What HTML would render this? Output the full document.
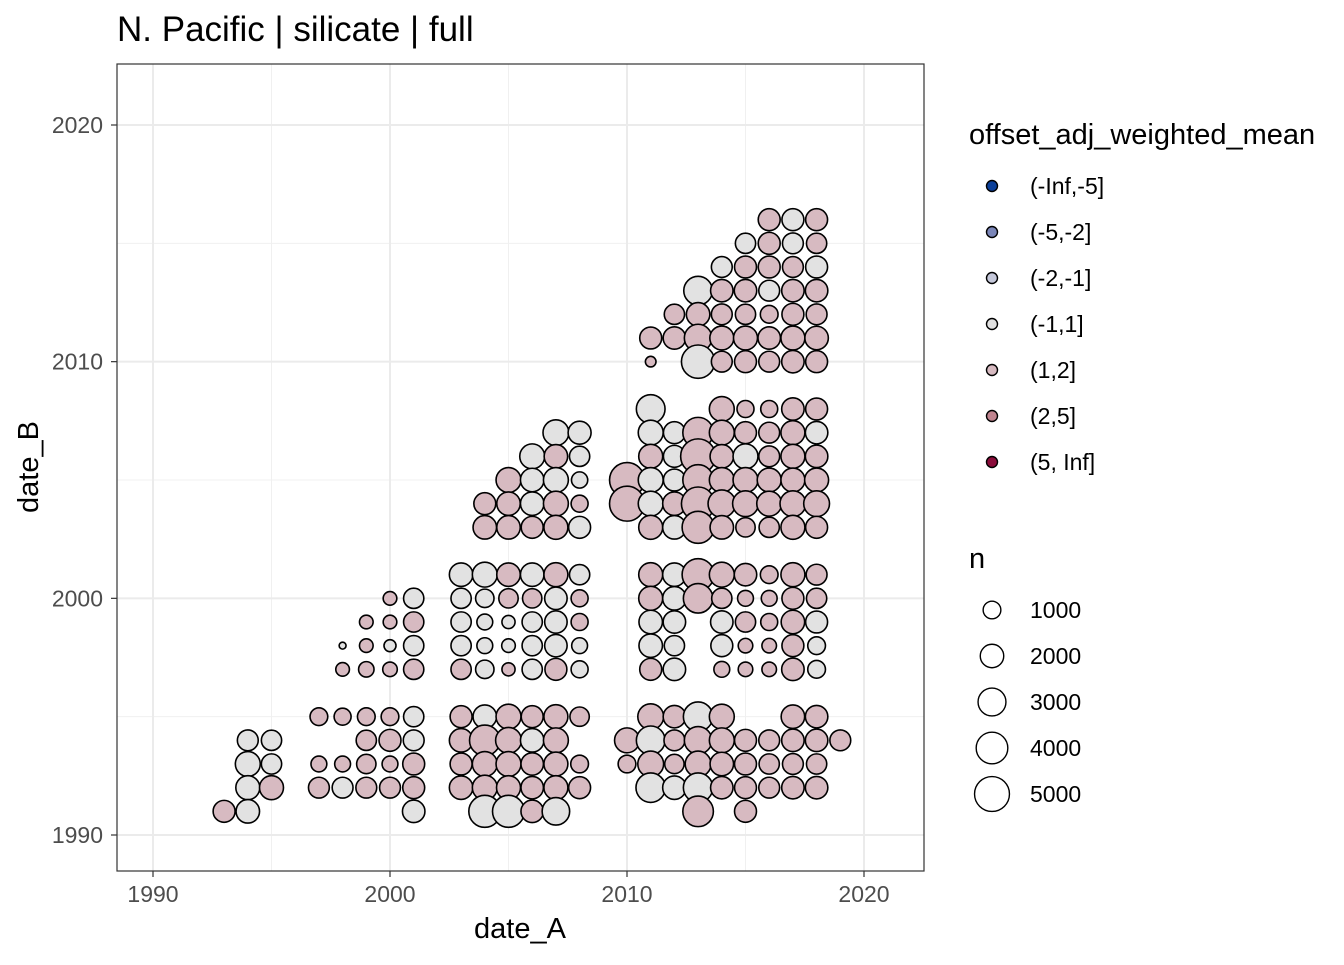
<!DOCTYPE html>
<html><head><meta charset="utf-8"><title>N. Pacific silicate</title>
<style>body{margin:0;background:#fff}svg text{font-family:"Liberation Sans",sans-serif}</style></head>
<body>
<svg id="chart" width="1344" height="960" xmlns="http://www.w3.org/2000/svg">
<rect width="1344" height="960" fill="#fff"/>
<text x="117" y="41" font-size="35" fill="#000">N. Pacific | silicate | full</text>
<rect x="117" y="64" width="807" height="807" fill="#fff"/>
<g id="grid"></g>
<g id="points"></g>
<rect x="117" y="64" width="807" height="807" fill="none" stroke="#333" stroke-width="1.2"/>
<g id="axes"></g>
<text x="520" y="938" font-size="29" text-anchor="middle">date_A</text>
<text transform="translate(38,467) rotate(-90)" font-size="29" text-anchor="middle">date_B</text>
<g id="legend"></g>
</svg>
<script>
const categories = ["(-Inf,-5]","(-5,-2]","(-2,-1]","(-1,1]","(1,2]","(2,5]","(5, Inf]"];
const catColors = ["#0b3f99","#7b86b8","#c5c8da","#e2e2e2","#d7bac1","#c0848f","#8a0c3a"];
const xTicks = [1990,2000,2010,2020];
const yTicks = [1990,2000,2010,2020];
const sizeLegend = [1000,2000,3000,4000,5000];
// rows: [date_A, date_B, n, category index] ; 3 = (-1,1], 4 = (1,2]
const dateA = [], dateB = [], nVals = [], cats = [];
const rows = [
[2007,2007,2500,3],[2008,2007,1900,3],
[2006,2006,2300,3],[2007,2006,2000,4],[2008,2006,1400,3],
[2005,2005,2300,4],[2006,2005,2000,3],[2007,2005,2300,3],[2008,2005,800,3],
[2004,2004,1700,4],[2005,2004,2000,4],[2006,2004,2000,3],[2007,2004,2300,4],[2008,2004,900,4],
[2004,2003,2000,4],[2005,2003,2000,4],[2006,2003,1700,4],[2007,2003,2100,4],[2008,2003,1700,3],
[2003,2001,2000,3],[2004,2001,2300,3],[2005,2001,2000,4],[2006,2001,2000,3],[2007,2001,2100,4],[2008,2001,1400,3],
[2003,2000,1400,3],[2004,2000,1100,3],[2005,2000,1250,4],[2006,2000,1250,4],[2007,2000,1800,3],[2008,2000,900,4],
[2003,1999,1400,3],[2004,1999,750,3],[2005,1999,450,3],[2006,1999,1400,3],[2007,1999,1800,3],[2008,1999,900,4],
[2003,1998,1400,3],[2004,1998,750,3],[2005,1998,500,3],[2006,1998,1400,3],[2007,1998,1800,3],[2008,1998,750,3],
[2003,1997,1400,4],[2004,1997,1100,3],[2005,1997,450,4],[2006,1997,1400,3],[2007,1997,1700,4],[2008,1997,900,3],
[2000,2000,500,4],[2001,2000,1400,3],
[1999,1999,500,4],[2000,1999,500,4],[2001,1999,1400,4],
[1998,1998,50,3],[1999,1998,500,4],[2000,1998,350,3],[2001,1998,1400,3],
[1998,1997,500,4],[1999,1997,700,4],[2000,1997,600,4],[2001,1997,1400,4],
[1997,1995,1000,4],[1998,1995,900,4],[1999,1995,1000,4],[2000,1995,1000,4],[2001,1995,1400,3],
[1999,1994,1400,4],[2000,1994,1700,4],[2001,1994,1500,3],
[1997,1993,750,4],[1998,1993,750,4],[1999,1993,1250,4],[2000,1993,750,4],[2001,1993,1700,4],
[1997,1992,1500,4],[1998,1992,1500,3],[1999,1992,1500,4],[2000,1992,1500,4],[2001,1992,1700,4],
[2001,1991,1800,3],
[1994,1994,1500,3],[1995,1994,1400,3],
[1994,1993,2300,3],[1995,1993,1400,3],
[1994,1992,2100,3],[1995,1992,2100,4],
[1993,1991,1700,4],[1994,1991,2000,3],
[2003,1995,1700,4],[2004,1995,2000,3],[2005,1995,2300,4],[2006,1995,1700,4],[2007,1995,2100,4],[2008,1995,1250,4],
[2003,1994,2000,4],[2004,1994,3700,4],[2005,1994,2500,4],[2006,1994,2000,3],[2007,1994,2300,4],
[2003,1993,1700,4],[2004,1993,2300,4],[2005,1993,2300,4],[2006,1993,1800,4],[2007,1993,2100,4],[2008,1993,1000,4],
[2003,1992,2000,4],[2004,1992,2300,4],[2005,1992,2100,4],[2006,1992,1800,4],[2007,1992,2100,4],[2008,1992,1700,4],
[2004,1991,4100,3],[2005,1991,4100,3],[2006,1991,1800,4],[2007,1991,2900,3],
[2016,2016,1700,4],[2017,2016,1700,3],[2018,2016,1700,4],
[2015,2015,1400,3],[2016,2015,1700,4],[2017,2015,1500,3],[2018,2015,1400,4],
[2014,2014,1500,3],[2015,2014,1700,4],[2016,2014,1700,4],[2017,2014,1500,4],[2018,2014,1700,3],
[2013,2013,3200,3],[2014,2013,1800,4],[2015,2013,1800,4],[2016,2013,1500,3],[2017,2013,1800,4],[2018,2013,1800,4],
[2012,2012,1400,4],[2013,2012,2000,4],[2014,2012,1500,4],[2015,2012,1400,4],[2016,2012,1000,4],[2017,2012,1700,4],[2018,2012,1500,4],
[2011,2011,1700,4],[2012,2011,1800,4],[2013,2011,2900,4],[2014,2011,2100,4],[2015,2011,2100,4],[2016,2011,1800,4],[2017,2011,2100,4],[2018,2011,2000,4],
[2011,2010,240,4],[2013,2010,4500,3],[2014,2010,1500,4],[2015,2010,1700,4],[2016,2010,1500,4],[2017,2010,1800,4],[2018,2010,1700,4],
[2011,2008,3200,3],[2014,2008,2300,4],[2015,2008,900,4],[2016,2008,900,4],[2017,2008,1800,4],[2018,2008,1700,4],
[2011,2007,2300,3],[2012,2007,1700,3],[2013,2007,3700,4],[2014,2007,2300,4],[2015,2007,1700,4],[2016,2007,1500,4],[2017,2007,2100,4],[2018,2007,1800,3],
[2011,2006,2100,4],[2012,2006,1700,3],[2013,2006,5000,4],[2014,2006,2000,4],[2015,2006,2300,3],[2016,2006,1500,4],[2017,2006,2100,4],[2018,2006,1800,4],
[2010,2005,5000,4],[2011,2005,2300,3],[2012,2005,1700,3],[2013,2005,3700,4],[2014,2005,2300,4],[2015,2005,2300,4],[2016,2005,2100,4],[2017,2005,2100,4],[2018,2005,2100,4],
[2010,2004,5000,4],[2011,2004,2300,3],[2012,2004,2000,4],[2013,2004,4500,4],[2014,2004,2900,4],[2015,2004,2500,4],[2016,2004,2300,4],[2017,2004,2500,4],[2018,2004,2500,4],
[2011,2003,2100,4],[2012,2003,2000,3],[2013,2003,4100,4],[2014,2003,2000,4],[2015,2003,1250,4],[2016,2003,1400,4],[2017,2003,2100,4],[2018,2003,1700,4],
[2011,2001,2100,4],[2012,2001,2000,3],[2013,2001,4100,4],[2014,2001,2300,4],[2015,2001,1800,4],[2016,2001,1000,4],[2017,2001,2100,4],[2018,2001,1500,4],
[2011,2000,2100,4],[2012,2000,2000,3],[2013,2000,3400,4],[2014,2000,1400,4],[2015,2000,750,4],[2016,2000,750,4],[2017,2000,1700,4],[2018,2000,1400,4],
[2011,1999,2000,3],[2012,1999,1800,3],[2014,1999,1800,3],[2015,1999,1400,4],[2016,1999,900,4],[2017,1999,2000,4],[2018,1999,1700,3],
[2011,1998,2000,3],[2012,1998,1400,3],[2014,1998,1700,3],[2015,1998,600,4],[2016,1998,600,4],[2017,1998,1700,4],[2018,1998,1000,3],
[2011,1997,1700,4],[2012,1997,1800,3],[2014,1997,750,4],[2015,1997,600,4],[2016,1997,600,4],[2017,1997,1800,4],[2018,1997,1000,3],
[2011,1995,2500,4],[2012,1995,1800,4],[2013,1995,3400,3],[2014,1995,2300,4],[2017,1995,2000,4],[2018,1995,1800,4],
[2010,1994,2300,4],[2011,1994,3200,3],[2012,1994,1500,4],[2013,1994,2900,4],[2014,1994,2300,4],[2015,1994,1700,4],[2016,1994,1500,4],[2017,1994,1800,4],[2018,1994,1800,4],[2019,1994,1500,4],
[2010,1993,1000,4],[2011,1993,2500,4],[2012,1993,1250,4],[2013,1993,2500,4],[2014,1993,2000,4],[2015,1993,1700,4],[2016,1993,1400,4],[2017,1993,1500,4],[2018,1993,1400,4],
[2011,1992,3400,3],[2012,1992,2000,3],[2013,1992,3400,3],[2014,1992,1800,4],[2015,1992,1700,4],[2016,1992,1500,4],[2017,1992,1800,4],[2018,1992,1800,4],
[2013,1991,3700,4],[2015,1991,1700,4]
];
rows.forEach(r=>{dateA.push(r[0]);dateB.push(r[1]);nVals.push(r[2]);cats.push(r[3]);});

const NS="http://www.w3.org/2000/svg";
const X = v => 153 + (v-1990)*(864-153)/30;
const Y = v => 835 - (v-1990)*(835-125)/30;
const R = n => 1.9 + 0.22*Math.sqrt(n);
function mk(tag, attrs, parent){const e=document.createElementNS(NS,tag);for(const k in attrs)e.setAttribute(k,attrs[k]);parent.appendChild(e);return e;}

const grid=document.getElementById('grid');
[1995,2005,2015].forEach(v=>{
  const l1=mk('line',{x1:X(v),x2:X(v),y1:64,y2:871,stroke:'#f0f0f0','stroke-width':1},grid);
  
  
  const l2=mk('line',{x1:117,x2:924,y1:Y(v),y2:Y(v),stroke:'#f0f0f0','stroke-width':1},grid);
  
  
});
xTicks.forEach(v=>{
  const l=mk('line',{x1:X(v),x2:X(v),y1:64,y2:871,stroke:'#ebebeb','stroke-width':2},grid);
  
  
});
yTicks.forEach(v=>{
  const l=mk('line',{x1:117,x2:924,y1:Y(v),y2:Y(v),stroke:'#ebebeb','stroke-width':2},grid);
  
  
});

const pts=document.getElementById('points');
for(let i=0;i<dateA.length;i++){
  const c=mk('circle',{cx:X(dateA[i]),cy:Y(dateB[i]),r:R(nVals[i]),fill:catColors[cats[i]],stroke:'#000','stroke-width':1.6},pts);
  
  
}

const axes=document.getElementById('axes');
xTicks.forEach(v=>{
  const t=mk('line',{x1:X(v),x2:X(v),y1:871,y2:877,stroke:'#333','stroke-width':1.2},axes);
  
  
  const tx=mk('text',{x:X(v),y:902,'font-size':23,fill:'#4d4d4d','text-anchor':'middle'},axes);
  tx.textContent=v;
  
  
});
yTicks.forEach(v=>{
  const t=mk('line',{x1:111,x2:117,y1:Y(v),y2:Y(v),stroke:'#333','stroke-width':1.2},axes);
  
  
  const tx=mk('text',{x:103,y:Y(v)+8,'font-size':23,fill:'#4d4d4d','text-anchor':'end'},axes);
  tx.textContent=v;
  
  
});

const lg=document.getElementById('legend');
const lt=mk('text',{x:969,y:144,'font-size':29},lg);
lt.textContent='offset_adj_weighted_mean';


categories.forEach((c,i)=>{
  const y=186+i*46;
  const k=mk('circle',{cx:992,cy:y,r:5.5,fill:catColors[i],stroke:'#000','stroke-width':1.4},lg);
  
  
  const t=mk('text',{x:1030,y:y+8,'font-size':23},lg);
  t.textContent=c;
  
  
});
const st=mk('text',{x:969,y:568,'font-size':29},lg);
st.textContent='n';


sizeLegend.forEach((n,i)=>{
  const y=610+i*46;
  const k=mk('circle',{cx:992,cy:y,r:R(n),fill:'none',stroke:'#000','stroke-width':1.4},lg);
  
  
  const t=mk('text',{x:1030,y:y+8,'font-size':23},lg);
  t.textContent=n;
  
  
});
</script>
</body></html>
